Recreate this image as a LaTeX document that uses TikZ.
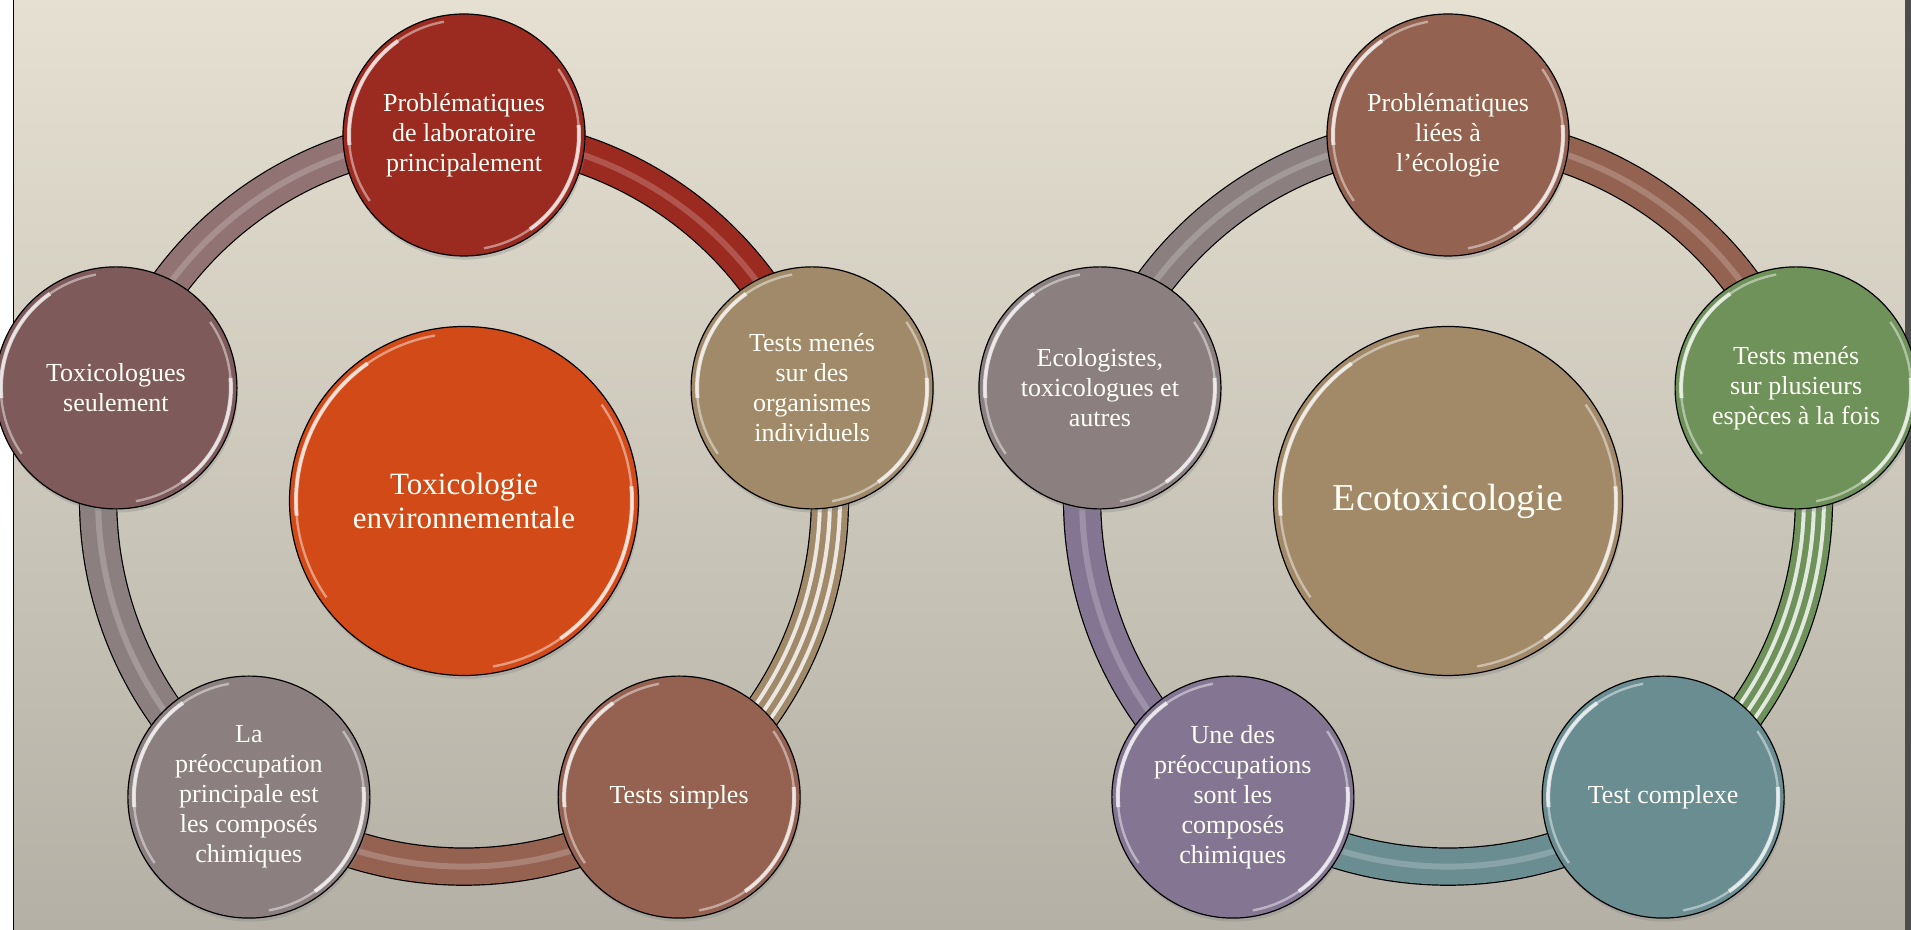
\documentclass[tikz,border=0pt]{standalone}
\usepackage{fontspec}
\setmainfont{Liberation Serif}
\usetikzlibrary{shadows,backgrounds}

\definecolor{bgtop}{HTML}{E5E0D1}
\definecolor{bgbot}{HTML}{B4B0A5}
\definecolor{laboRed}{HTML}{9B2B20}
\definecolor{testTan}{HTML}{A08A6A}
\definecolor{simpleBrown}{HTML}{956252}
\definecolor{chemGray}{HTML}{8C7F80}
\definecolor{toxMauve}{HTML}{7E5A5A}
\definecolor{envOrange}{HTML}{D24A17}
\definecolor{ecoBrown}{HTML}{946250}
\definecolor{multiGreen}{HTML}{6E925A}
\definecolor{complexTeal}{HTML}{6A8D92}
\definecolor{concernPurple}{HTML}{847692}
\definecolor{ecoGray}{HTML}{8B7F7F}
\definecolor{ecoTan}{HTML}{A28A69}

\tikzset{
  gloss/.style={path picture={
    \draw[white, draw opacity=.45, line width=1.2pt]
      (path picture bounding box.center) ++(100:#1) arc[start angle=100, end angle=215, radius=#1];
    \draw[white, draw opacity=.7, line width=2pt]
      (path picture bounding box.center) ++(125:#1) arc[start angle=125, end angle=185, radius=#1];
    \draw[white, draw opacity=.45, line width=1.2pt]
      (path picture bounding box.center) ++(-80:#1) arc[start angle=-80, end angle=35, radius=#1];
    \draw[white, draw opacity=.7, line width=2pt]
      (path picture bounding box.center) ++(-55:#1) arc[start angle=-55, end angle=5, radius=#1];
  }},
  bubble/.style={circle, draw=black, line width=.6pt, fill=#1, minimum size=121pt,
    inner sep=0pt, align=center, text=white!97!yellow,
    font=\fontsize{13}{15}\selectfont, gloss=115,
    drop shadow={opacity=.3, shadow xshift=.6pt, shadow yshift=-1.8pt}},
  hub/.style={bubble=#1, minimum size=174.5pt, gloss=168,
    font=\fontsize{15.5}{17}\selectfont},
  tube/.style={line width=19.2pt, draw=black,
    postaction={draw=#1, line width=18pt},
    postaction={draw=#1!55!white, draw opacity=.45, line width=3pt}},
  tubestripe/.style={tube=#1,
    postaction={draw=white!80!#1, line width=12pt},
    postaction={draw=#1, line width=8pt},
    postaction={draw=white!80!#1, line width=2pt}},
  ringto/.style={bend left=36, looseness=.94}
}

\begin{document}
\begin{tikzpicture}[x=0.5pt, y=0.5pt]
  \useasboundingbox (0,0) rectangle (1911,930);

  % toxicologie environnementale
  \begin{scope}[shift={(464,429)}]
    \node[hub=envOrange] (c1) at (0,0) {Toxicologie\\environnementale};
    \node[bubble=laboRed] (t1) at (90:366) {Problématiques\\de laboratoire\\principalement};
    \node[bubble=testTan] (r1) at (18:366) {Tests menés\\sur des\\organismes\\individuels};
    \node[bubble=simpleBrown] (br1) at (-54:366) {Tests simples};
    \node[bubble=chemGray] (bl1) at (-126:366) {La\\préoccupation\\principale est\\les composés\\chimiques};
    \node[bubble=toxMauve] (l1) at (162:366) {Toxicologues\\seulement};
  \end{scope}

  % ecotoxicologie
  \begin{scope}[shift={(1448,429)}]
    \node[hub=ecoTan, font=\fontsize{19}{22}\selectfont] (c2) at (0,0) {Ecotoxicologie};
    \node[bubble=ecoBrown] (t2) at (90:366) {Problématiques\\liées à\\l’écologie};
    \node[bubble=multiGreen] (r2) at (18:366) {Tests menés\\sur plusieurs\\espèces à la fois};
    \node[bubble=complexTeal] (br2) at (-54:366) {Test complexe};
    \node[bubble=concernPurple] (bl2) at (-126:366) {Une des\\préoccupations\\sont les\\composés\\chimiques};
    \node[bubble=ecoGray] (l2) at (162:366) {Ecologistes,\\toxicologues et\\autres};
  \end{scope}

  \begin{scope}[on background layer]
    % slide backdrop
    \fill[white] (0,0) rectangle (14,930);
    \shade[top color=bgtop, bottom color=bgbot] (14,0) rectangle (1905,930);
    \fill[black!70] (1905,0) rectangle (1911,930);
    \draw[black, line width=.7pt] (13.5,0) -- (13.5,930);

    % ring, left
    \draw[tube=laboRed] (t1.center) to[ringto] (r1.center);
    \draw[tubestripe=testTan] (r1.center) to[ringto] (br1.center);
    \draw[tube=simpleBrown] (br1.center) to[ringto] (bl1.center);
    \draw[tube=chemGray] (bl1.center) to[ringto] (l1.center);
    \draw[tube=toxMauve!85!white] (l1.center) to[ringto] (t1.center);

    % ring, right
    \draw[tube=ecoBrown] (t2.center) to[ringto] (r2.center);
    \draw[tubestripe=multiGreen] (r2.center) to[ringto] (br2.center);
    \draw[tube=complexTeal] (br2.center) to[ringto] (bl2.center);
    \draw[tube=concernPurple] (bl2.center) to[ringto] (l2.center);
    \draw[tube=ecoGray] (l2.center) to[ringto] (t2.center);
  \end{scope}
\end{tikzpicture}
\end{document}
